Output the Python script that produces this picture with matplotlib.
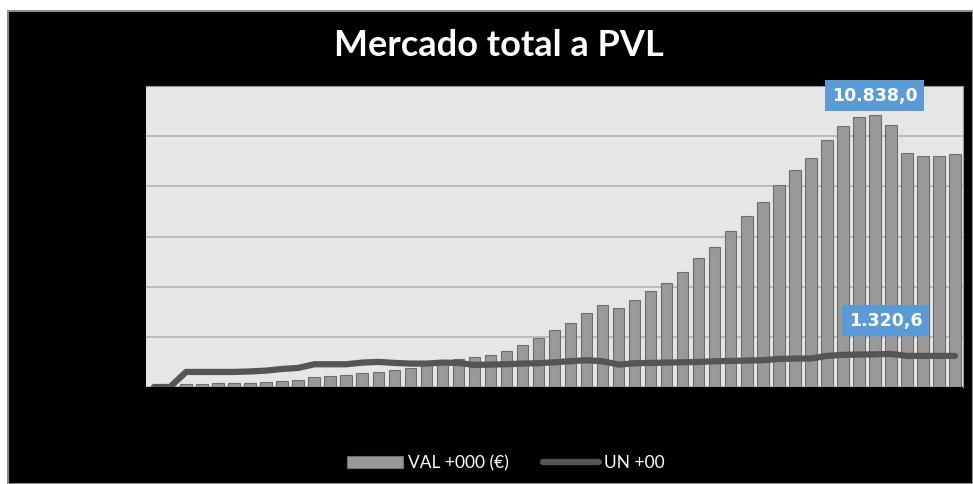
import matplotlib
matplotlib.use("Agg")
import matplotlib.pyplot as plt
import numpy as np
from matplotlib.patches import Rectangle

# bar values (VAL +000 €) and line values (UN +00), one per period
val = [0, 0, 107, 110, 147, 150, 173, 213, 240, 293,
       387, 453, 493, 560, 600, 667, 760, 950, 1020, 1120,
       1187, 1280, 1453, 1693, 1947, 2253, 2560, 2947, 3253, 3160,
       3467, 3813, 4160, 4600, 5160, 5587, 6200, 6800, 7360, 8040,
       8640, 9120, 9840, 10400, 10747, 10838.0, 10440, 9320, 9200, 9227,
       9280]
un = [0, 0, 600, 600, 600, 600, 620, 653, 720, 760,
      907, 907, 907, 973, 1000, 960, 933, 933, 973, 960,
      880, 893, 907, 933, 947, 987, 1027, 1067, 1027, 893,
      947, 960, 973, 987, 1000, 1027, 1040, 1053, 1067, 1120,
      1133, 1133, 1240, 1280, 1293, 1300, 1320.6, 1240, 1240, 1240,
      1240]

x = np.arange(len(val))

fig = plt.figure(figsize=(9.73, 4.84), dpi=100, facecolor='white')

# black chart area with a thin grey frame (white margin top/left)
fig.patches.append(Rectangle((8/973, 0), 1 - 8/973, 1 - 11/484,
                             transform=fig.transFigure, facecolor='black',
                             edgecolor='#8c8c8c', linewidth=1.5, zorder=-5))

ax = fig.add_axes([146/973, 1 - 387/484, (963 - 146)/973, (387 - 86)/484])
ax.set_facecolor('#e6e6e6')

bars = ax.bar(x, val, width=0.72, color='#999999', edgecolor='#6f6f6f',
              linewidth=0.8, label='VAL +000 (€)', zorder=2)
line, = ax.plot(x, un, color='#555555', linewidth=4.5, solid_joinstyle='round',
                solid_capstyle='round', label='UN +00', zorder=3)

ax.set_xlim(-0.5, len(val) - 0.5)
ax.set_ylim(0, 12000)
ax.set_yticks(np.arange(0, 12001, 2000))
ax.yaxis.grid(True, color='#b4b4b4', linewidth=1.2, zorder=1)
ax.set_axisbelow(True)
ax.tick_params(left=False, bottom=False, labelleft=False, labelbottom=False)
for s in ['top', 'right']:
    ax.spines[s].set_color('#9a9a9a')
ax.spines['left'].set_visible(False)
ax.spines['bottom'].set_visible(False)


def fmt(v):
    return f"{v:,.1f}".replace(',', ' ').replace('.', ',').replace(' ', '.')


# data labels
box = dict(boxstyle='square,pad=0.38', facecolor='#5b9bd5', edgecolor='none')
i_max = int(np.argmax(val))
ax.annotate(fmt(val[i_max]), xy=(i_max, val[i_max]), xytext=(0, 14),
            textcoords='offset points', ha='center', va='center',
            color='white', fontsize=12.5, fontweight='bold', bbox=box,
            annotation_clip=False, zorder=5)
j_max = int(np.argmax(un))
ax.annotate(fmt(un[j_max]), xy=(j_max, un[j_max]), xytext=(-4, 24),
            textcoords='offset points', ha='center', va='center',
            color='white', fontsize=12.5, fontweight='bold', bbox=box, zorder=5)

fig.text(0.513, 0.907, 'Mercado total a PVL', ha='center', va='center',
         color='white', fontsize=26, fontweight='bold', family='Lato')

leg = fig.legend([bars, line], ['VAL +000 (€)', 'UN +00'], loc='center',
                 bbox_to_anchor=(0.52, 0.043), ncol=2, frameon=False,
                 handlelength=3.2, columnspacing=2.0, handletextpad=0.3,
                 prop={'family': 'Lato', 'size': 12.5})
for t in leg.get_texts():
    t.set_color('white')

fig.savefig('out.png', dpi=100, facecolor=fig.get_facecolor())
